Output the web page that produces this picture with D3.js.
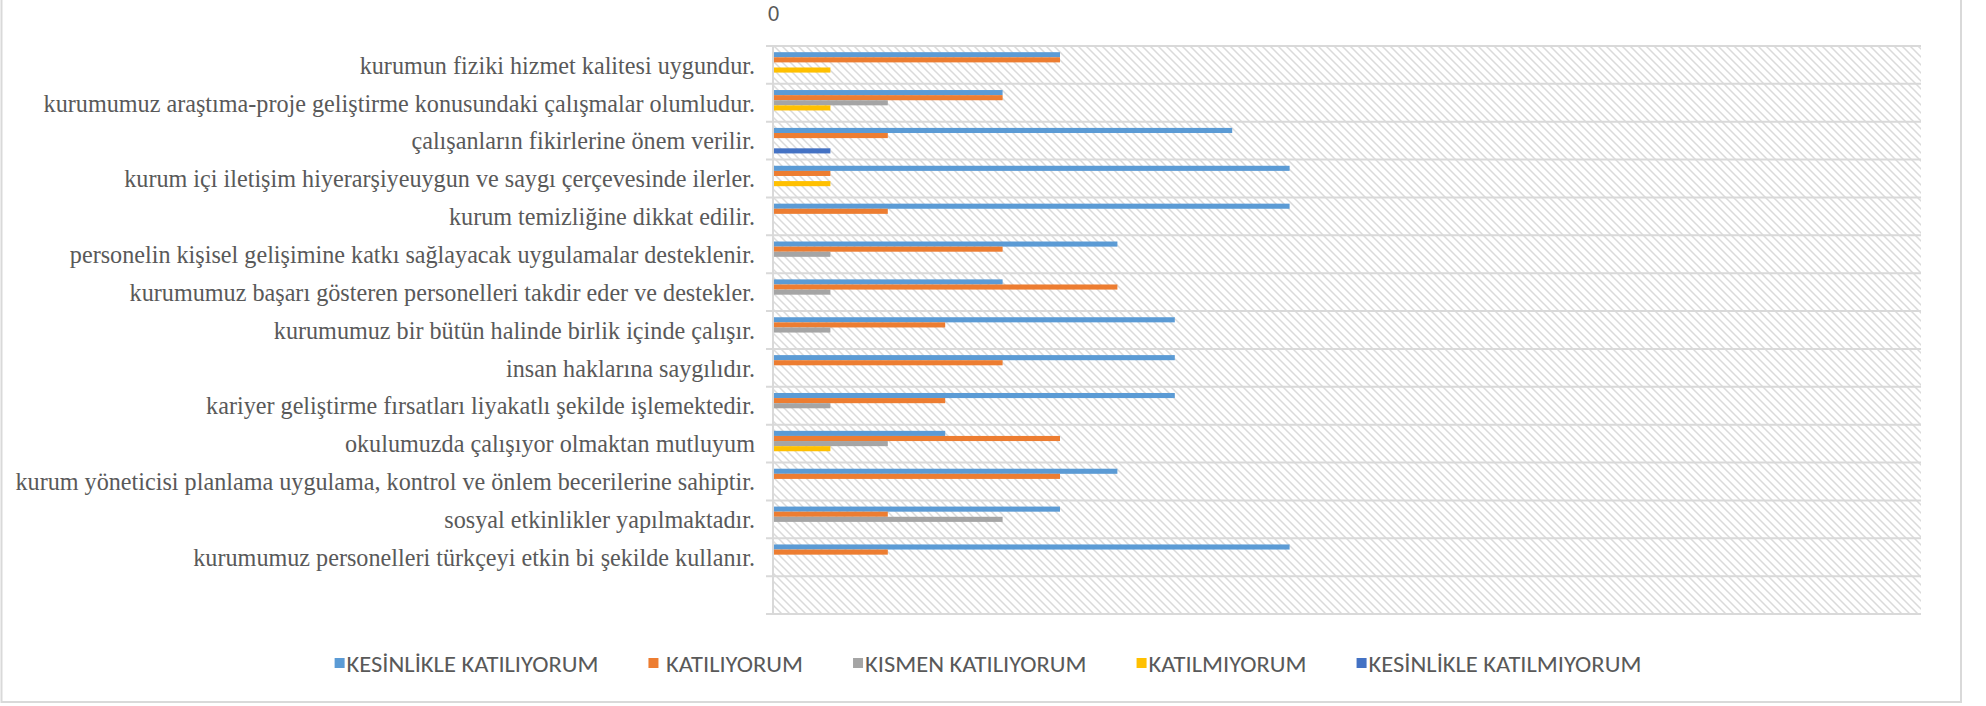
<!DOCTYPE html>
<html><head><meta charset="utf-8">
<script src="https://cdn.jsdelivr.net/npm/d3@7"></script>
<style>
html,body{margin:0;padding:0;background:#fff;}
svg{display:block;}
</style></head>
<body>
<svg id="chart" width="1986" height="706"></svg>
<script>
const categories = [
  "kurumun fiziki hizmet kalitesi uygundur.",
  "kurumumuz araştıma-proje geliştirme konusundaki çalışmalar olumludur.",
  "çalışanların fikirlerine önem verilir.",
  "kurum içi iletişim hiyerarşiyeuygun ve saygı çerçevesinde ilerler.",
  "kurum temizliğine dikkat edilir.",
  "personelin kişisel gelişimine katkı sağlayacak uygulamalar desteklenir.",
  "kurumumuz başarı gösteren personelleri takdir eder ve destekler.",
  "kurumumuz bir bütün halinde birlik içinde çalışır.",
  "insan haklarına saygılıdır.",
  "kariyer geliştirme fırsatları liyakatlı şekilde işlemektedir.",
  "okulumuzda çalışıyor olmaktan mutluyum",
  "kurum yöneticisi planlama uygulama, kontrol ve önlem becerilerine sahiptir.",
  "sosyal etkinlikler yapılmaktadır.",
  "kurumumuz personelleri türkçeyi etkin bi şekilde kullanır.",
  ""
];
const seriesNames = ["KESİNLİKLE KATILIYORUM", " KATILIYORUM", "KISMEN KATILIYORUM", "KATILMIYORUM", "KESİNLİKLE KATILMIYORUM"];
const kesinlikleKatiliyorum  = [5,4,8,9,9,6,4,7,7,7,3,6,5,9,0];
const katiliyorum            = [5,4,2,1,2,4,6,3,4,3,5,5,2,2,0];
const kismenKatiliyorum      = [0,2,0,0,0,1,1,1,0,1,2,0,4,0,0];
const katilmiyorum           = [1,1,0,1,0,0,0,0,0,0,1,0,0,0,0];
const kesinlikleKatilmiyorum = [0,0,1,0,0,0,0,0,0,0,0,0,0,0,0];
const seriesColors = ["#5B9BD5", "#ED7D31", "#A5A5A5", "#FFC000", "#4472C4"];
const xTicks = [0];

const seriesValues = [kesinlikleKatiliyorum, katiliyorum, kismenKatiliyorum, katilmiyorum, kesinlikleKatilmiyorum];

const svg = d3.select("#chart");
const plot = {left: 773, right: 1921, top: 46, bottom: 614};
const serifFont = "'Liberation Serif', Tinos, 'Times New Roman', 'DejaVu Serif', 'Noto Serif', serif";
const sansFont = "Carlito, Calibri, 'Liberation Sans Narrow', 'Open Sans', sans-serif";

// chart border
svg.append("rect").attr("x", 1.5).attr("y", -2).attr("width", 1961 - 1.5).attr("height", 704)
  .attr("fill", "#fff").attr("stroke", "#d9d9d9").attr("stroke-width", 2);

// hatch pattern
const defs = svg.append("defs");
const pat = defs.append("pattern").attr("id", "hatch").attr("patternUnits", "userSpaceOnUse")
  .attr("width", 8).attr("height", 8);
pat.append("rect").attr("width", 8).attr("height", 8).attr("fill", "#fff");
pat.append("path").attr("d", "M-2,-2 L10,10 M-2,6 L2,10 M6,-2 L10,2")
  .attr("stroke", "#dadada").attr("stroke-width", 1.5);

const x = d3.scaleLinear().domain([0, 20]).range([plot.left, plot.right]);
const y = d3.scaleBand().domain(d3.range(categories.length)).range([plot.top, plot.bottom]).padding(0);
const yInner = d3.scaleBand().domain(d3.range(seriesNames.length)).range([0, y.bandwidth()])
  .paddingInner(0).paddingOuter(1.21);

svg.append("rect").attr("x", plot.left).attr("y", plot.top)
  .attr("width", plot.right - plot.left).attr("height", plot.bottom - plot.top)
  .attr("fill", "url(#hatch)");

// horizontal gridlines at band boundaries (with tick extension)
const bounds = d3.range(categories.length + 1).map(i => i === categories.length ? plot.bottom : y(i));
svg.append("g").selectAll("line").data(bounds).join("line")
  .attr("x1", plot.left - 7).attr("x2", plot.right)
  .attr("y1", d => d).attr("y2", d => d)
  .attr("stroke", "#d9d9d9").attr("stroke-width", 2);

// vertical axis line
svg.append("line").attr("x1", plot.left).attr("x2", plot.left)
  .attr("y1", plot.top).attr("y2", plot.bottom)
  .attr("stroke", "#d9d9d9").attr("stroke-width", 2);

// bars
seriesValues.forEach((vals, s) => {
  svg.append("g").selectAll("rect").data(vals.map((v, i) => ({v, i}))).join("rect")
    .filter(d => d.v > 0)
    .attr("x", x(0) + 1)
    .attr("y", d => y(d.i) + yInner(s))
    .attr("width", d => x(d.v) - x(0) - 1)
    .attr("height", yInner.bandwidth())
    .attr("fill", seriesColors[s]);
});

// top axis tick label
const xAxis = d3.axisTop(x).tickValues(xTicks).tickSize(0).tickFormat(d3.format("d"));
const gx = svg.append("g").attr("transform", `translate(0,${plot.top - 22})`).call(xAxis);
gx.select(".domain").remove();
gx.selectAll("text").attr("font-family", sansFont)
  .attr("font-size", 22).attr("fill", "#595959");

// category labels (serif, slightly condensed like the original)
const labelG = svg.append("g");
const labels = labelG.selectAll("text").data(categories).join("text")
  .attr("x", 0)
  .attr("y", (d, i) => y(i) + y.bandwidth() / 2)
  .attr("dy", "0.35em")
  .attr("text-anchor", "end")
  .attr("font-family", serifFont)
  .attr("font-size", 25)
  .attr("fill", "#595959")
  .text(d => d);
const longest = d3.max(labels.nodes(), n => n.getComputedTextLength());
const labelScale = 740 / longest;
labelG.attr("transform", `translate(${plot.left - 18},0) scale(${labelScale},1)`);

// legend
const lg = svg.append("g");
const items = lg.selectAll("g").data(seriesNames).join("g");
items.append("rect").attr("width", 10).attr("height", 10).attr("y", -6)
  .attr("fill", (d, i) => seriesColors[i]);
const lt = items.append("text").attr("x", 0).attr("y", 0).attr("dy", "0.36em")
  .style("white-space", "pre")
  .attr("font-family", sansFont)
  .attr("font-size", 23).attr("fill", "#595959")
  .text(d => d);
const legendScale = 252 / lt.nodes()[0].getComputedTextLength();
lt.attr("transform", `translate(12,0) scale(${legendScale},1)`);
let cx = 0;
const gap = 50;
items.each(function() {
  const g = d3.select(this);
  const w = 12 + g.select("text").node().getComputedTextLength() * legendScale;
  g.attr("transform", `translate(${cx},664)`);
  cx += w + gap;
});
const total = cx - gap;
lg.attr("transform", `translate(${988 - total / 2},0)`);
</script>
</body></html>
